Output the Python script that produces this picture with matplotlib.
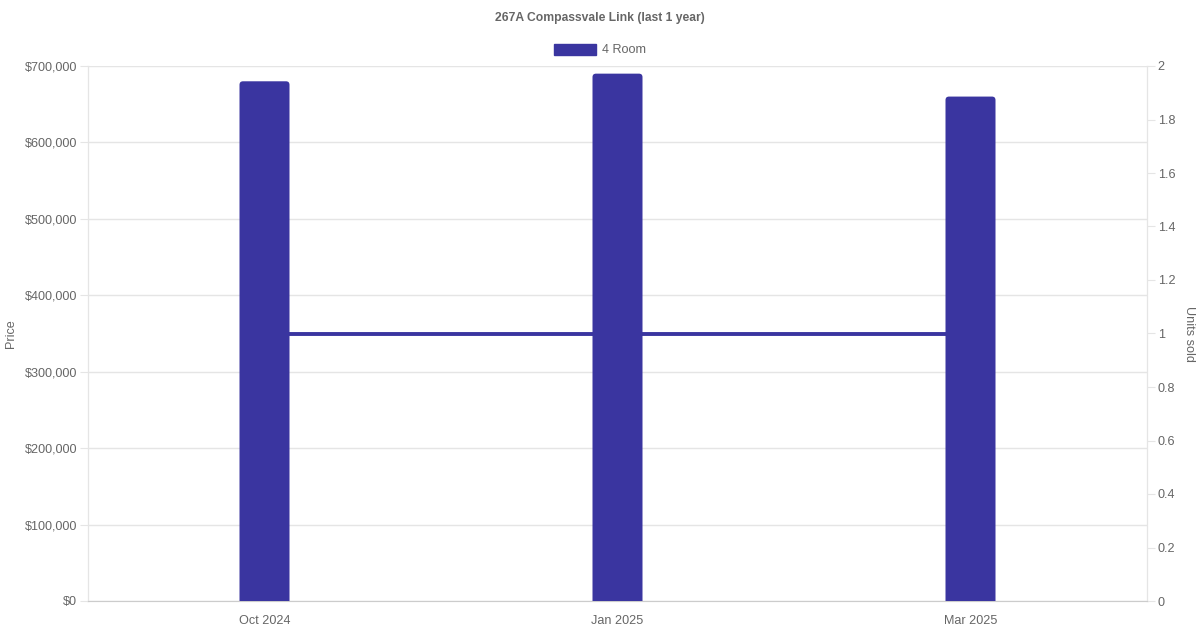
import matplotlib
matplotlib.use("Agg")
import matplotlib.pyplot as plt
from matplotlib.ticker import FuncFormatter, MultipleLocator
from matplotlib.patches import FancyBboxPatch, Patch

plt.rcParams['font.family'] = ['Liberation Sans', 'DejaVu Sans']

categories = ["Oct 2024", "Jan 2025", "Mar 2025"]
prices = [680000, 690000, 660000]
units_sold = [1, 1, 1]
series_name = "4 Room"
title = "267A Compassvale Link (last 1 year)"

color = "#3a35a0"
text_c = "#666666"
grid_c = "#e5e5e5"
fs = 9.1

fig = plt.figure(figsize=(12, 6.3), dpi=100)
ax = fig.add_axes([88/1200, 29/630, (1147-88)/1200, (601-66)/630])
ax2 = ax.twinx()

x = list(range(len(categories)))
ax.set_zorder(2)
ax.patch.set_visible(False)
ax2.set_zorder(1)

ax.set_xlim(-0.5, len(categories) - 0.5)
ax.set_ylim(0, 700000)
ax2.set_ylim(0, 2)

bars = ax.bar(x, prices, width=50/353, color=color, zorder=3)
# rounded top corners
ax_w_px = (1147 - 88)
ax_h_px = (601 - 66)
xpp = (ax.get_xlim()[1] - ax.get_xlim()[0]) / ax_w_px
ypp = (ax.get_ylim()[1] - ax.get_ylim()[0]) / ax_h_px
r_px = 3.5
for b in bars:
    b.set_visible(False)
    bx, by, bw, bh = b.get_x(), b.get_y(), b.get_width(), b.get_height()
    ext = 10 * ypp
    p = FancyBboxPatch((bx, by - ext), bw, bh + ext,
                       boxstyle=f"round,pad=0,rounding_size={r_px * xpp}",
                       mutation_aspect=ypp / xpp, fc=color, ec='none', zorder=3,
                       clip_on=True)
    ax.add_patch(p)

ax2.plot(x, units_sold, color=color, lw=2.8, zorder=2)

ax.yaxis.set_major_locator(MultipleLocator(100000))
ax.yaxis.set_major_formatter(FuncFormatter(lambda v, p: f"${int(v):,}"))
ax2.yaxis.set_major_locator(MultipleLocator(0.2))
ax2.yaxis.set_major_formatter(FuncFormatter(lambda v, p: f"{v:.1f}".rstrip('0').rstrip('.') if v else "0"))

ax.set_xticks(x)
ax.set_xticklabels(categories)
ax.grid(axis='y', color=grid_c, lw=1, zorder=0)
ax.set_axisbelow(True)

for a in (ax, ax2):
    for s in a.spines.values():
        s.set_color(grid_c)
    a.tick_params(colors=text_c, labelsize=fs, length=5.8, color=grid_c, pad=2.0)
    a.spines['top'].set_visible(False)
ax.spines['bottom'].set_color("#cccccc")
ax.tick_params(axis='x', length=0, pad=10)
for lab in ax.get_yticklabels() + ax.get_xticklabels() + ax2.get_yticklabels():
    lab.set_color(text_c)

mid_y = ((630 - 601) + (601 - 66) / 2) / 630
fig.text(11/1200, mid_y, "Price", rotation=90, ha='center', va='center', fontsize=fs, color=text_c)
fig.text(1189/1200, mid_y, "Units sold", rotation=270, ha='center', va='center', fontsize=fs, color=text_c)

fig.text(0.5, 1 - 18/630, title, ha='center', va='center', fontsize=8.7, fontweight='bold', color=text_c)
fig.legend(handles=[Patch(fc=color, ec=color)], labels=[series_name], loc='center',
           bbox_to_anchor=(0.5, 1 - 50/630), frameon=False, fontsize=fs,
           handlelength=3.3, handleheight=0.95, labelcolor=text_c, handletextpad=0.5)

fig.savefig("out.png", dpi=100, facecolor='white')
